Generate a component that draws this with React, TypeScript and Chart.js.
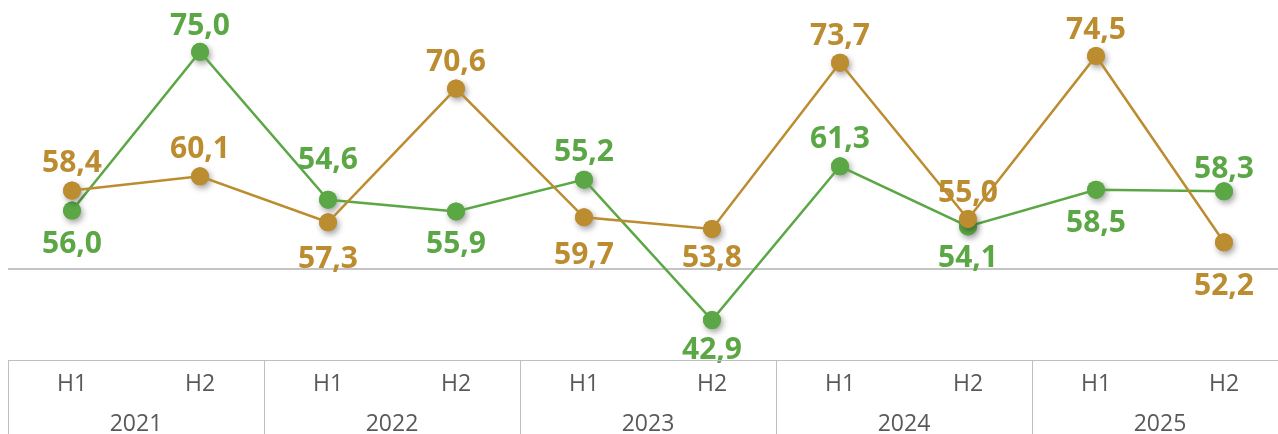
import React, { useEffect, useRef } from "react";
import { Chart, registerables } from "chart.js";

Chart.register(...registerables);

const halves = ["H1", "H2", "H1", "H2", "H1", "H2", "H1", "H2", "H1", "H2"];
const years = ["2021", "2022", "2023", "2024", "2025"];

// plotted values
const greenValues = [56.0, 75.0, 57.3, 55.9, 59.7, 42.9, 61.3, 54.1, 58.5, 58.3];
const goldValues = [58.4, 60.1, 54.6, 70.6, 55.2, 53.8, 73.7, 55.0, 74.5, 52.2];

// data label texts as shown
const greenLabels = [56.0, 75.0, 54.6, 55.9, 55.2, 42.9, 61.3, 54.1, 58.5, 58.3];
const goldLabels = [58.4, 60.1, 57.3, 70.6, 59.7, 53.8, 73.7, 55.0, 74.5, 52.2];

// label offsets (px) relative to the point centre
const greenLabelOffsets = [32, -27, -41, 31, -29, 28, -29, 30, 32, -24];
const goldLabelOffsets = [-29, -29, 35, -28, 36, 27, -28, -28, -28, 42];

const referenceValue = 49;

const GREEN = "#5BA745";
const GOLD = "#BC8C30";
const TEXT_GRAY = "#595959";
const LINE_GRAY = "#C4C4C4";

const fmt = (v: number) => v.toFixed(1).replace(".", ",");

const W = 1300;
const H = 440;
const LABEL_SIZE = 30;
const AXIS_SIZE = 23;

export default function App() {
  const ref = useRef<HTMLCanvasElement | null>(null);

  useEffect(() => {
    document.body.style.overflow = "hidden";
    document.documentElement.style.overflow = "hidden";
    const canvas = ref.current;
    if (!canvas) return;

    const offsetsByDataset: number[][] = [goldLabelOffsets, greenLabelOffsets];
    const labelsByDataset: number[][] = [goldLabels, greenLabels];
    const colorsByDataset = [GOLD, GREEN];

    const plugin = {
      id: "custom",
      beforeDatasetsDraw(chart: any) {
        const { ctx, chartArea, scales } = chart;
        const y = scales.y.getPixelForValue(referenceValue);
        ctx.save();
        ctx.strokeStyle = LINE_GRAY;
        ctx.lineWidth = 2;
        ctx.beginPath();
        ctx.moveTo(chartArea.left, y);
        ctx.lineTo(chartArea.right, y);
        ctx.stroke();
        ctx.restore();
      },
      beforeDatasetDraw(chart: any, args: any) {
        const { ctx } = chart;
        const meta = chart.getDatasetMeta(args.index);
        const color = colorsByDataset[args.index];
        ctx.save();
        ctx.shadowColor = "rgba(0,0,0,0.38)";
        ctx.shadowBlur = 6;
        ctx.shadowOffsetX = 2;
        ctx.shadowOffsetY = 3;
        ctx.fillStyle = color;
        meta.data.forEach((el: any) => {
          ctx.beginPath();
          ctx.arc(el.x, el.y, 9, 0, Math.PI * 2);
          ctx.fill();
        });
        ctx.restore();
      },
      afterDatasetsDraw(chart: any) {
        const { ctx } = chart;
        ctx.save();
        ctx.font = `bold ${LABEL_SIZE}px "Open Sans"`;
        ctx.textAlign = "center";
        ctx.textBaseline = "alphabetic";
        [1, 0].forEach((di) => {
          const meta = chart.getDatasetMeta(di);
          ctx.fillStyle = colorsByDataset[di];
          meta.data.forEach((el: any, i: number) => {
            const cy = el.y + offsetsByDataset[di][i];
            ctx.fillText(fmt(labelsByDataset[di][i]), el.x, cy + LABEL_SIZE * 0.357);
          });
        });
        ctx.restore();
      },
      afterDraw(chart: any) {
        const { ctx, chartArea, scales } = chart;
        const xs = scales.x;
        const n = halves.length;
        const step = (chartArea.right - chartArea.left) / n;
        const top = chartArea.bottom - 1;
        ctx.save();
        ctx.strokeStyle = "#BFBFBF";
        ctx.lineWidth = 1;
        ctx.beginPath();
        ctx.moveTo(chartArea.left, top + 0.5);
        ctx.lineTo(chart.width, top + 0.5);
        for (let k = 0; k <= years.length; k++) {
          const x = Math.round(chartArea.left + k * step * 2) + 0.5;
          ctx.moveTo(x, top);
          ctx.lineTo(x, chart.height);
        }
        ctx.stroke();
        ctx.fillStyle = TEXT_GRAY;
        ctx.font = `${AXIS_SIZE}px "Open Sans"`;
        ctx.textAlign = "center";
        ctx.textBaseline = "alphabetic";
        halves.forEach((h, i) => {
          ctx.fillText(h, xs.getPixelForValue(i), top + 23 + AXIS_SIZE * 0.357);
        });
        years.forEach((yr, k) => {
          const x = (xs.getPixelForValue(2 * k) + xs.getPixelForValue(2 * k + 1)) / 2;
          ctx.fillText(yr, x, top + 63 + AXIS_SIZE * 0.357);
        });
        ctx.restore();
      },
    };

    const chart = new Chart(canvas, {
      type: "line",
      data: {
        labels: halves.map((h, i) => `${years[Math.floor(i / 2)]} ${h}`),
        datasets: [
          {
            label: "Gold",
            data: goldValues,
            borderColor: GOLD,
            backgroundColor: GOLD,
            borderWidth: 2.5,
            pointRadius: 9,
            pointBorderWidth: 0,
            pointBackgroundColor: GOLD,
            tension: 0,
          },
          {
            label: "Green",
            data: greenValues,
            borderColor: GREEN,
            backgroundColor: GREEN,
            borderWidth: 2.5,
            pointRadius: 9,
            pointBorderWidth: 0,
            pointBackgroundColor: GREEN,
            tension: 0,
          },
        ],
      },
      options: {
        responsive: false,
        animation: false,
        devicePixelRatio: 1,
        layout: { autoPadding: false, padding: { top: 2, bottom: 87, left: 0, right: W - 1280 } },
        plugins: {
          legend: { display: false },
          tooltip: { enabled: false },
        },
        scales: {
          x: { display: false, offset: true, grid: { display: false } },
          y: { display: false, min: 38, max: 80 },
        },
      },
      plugins: [plugin],
    });

    return () => chart.destroy();
  }, []);

  return (
    <div style={{ width: 1262, height: 418, position: "relative" }}>
      <div style={{ position: "fixed", left: 8, top: 8, width: 1270, height: 426, overflow: "hidden" }}>
        <canvas ref={ref} width={W} height={H} style={{ display: "block", width: W, height: H }} />
      </div>
    </div>
  );
}
